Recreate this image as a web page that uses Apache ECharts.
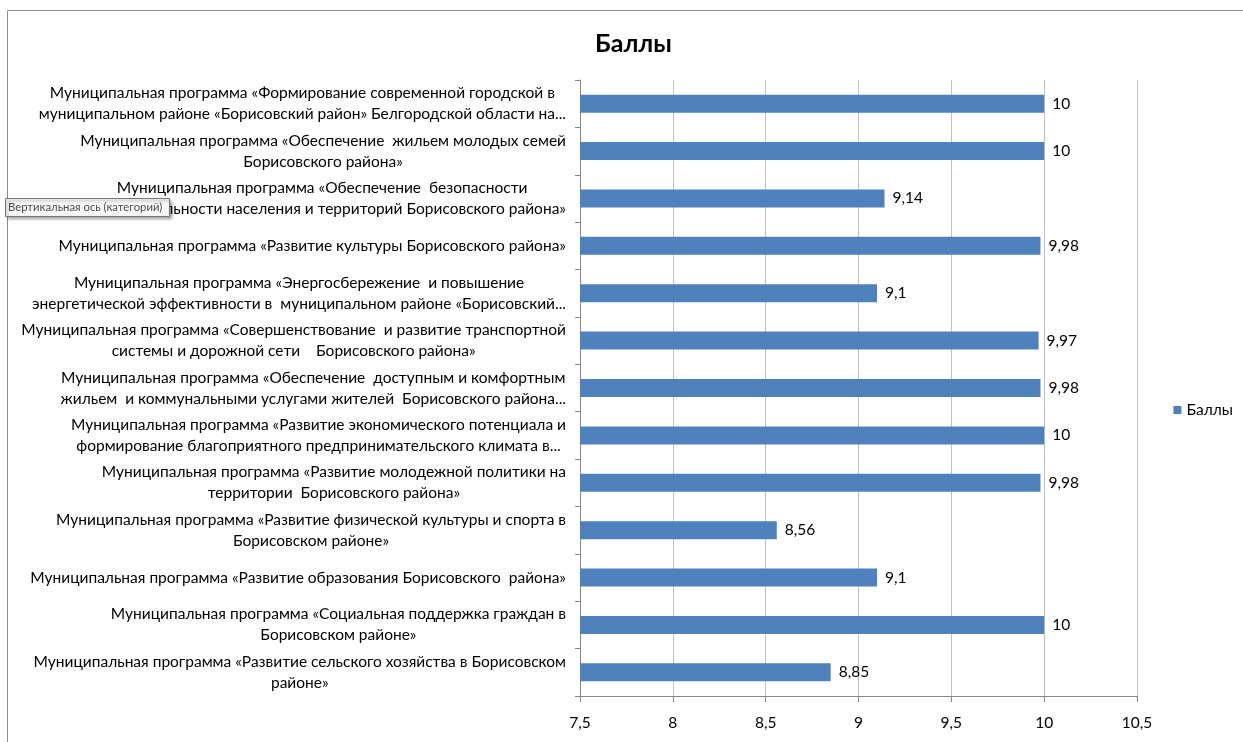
<!DOCTYPE html>
<html><head><meta charset="utf-8">
<script src="https://cdn.jsdelivr.net/npm/echarts@6/dist/echarts.min.js"></script>
<style>html,body{margin:0;padding:0;background:#fff}#c{width:1243px;height:742px}</style>
</head><body><div id="c"></div>
<script>
var categories = [
"Муниципальная программа «Формирование современной городской в\nмуниципальном районе «Борисовский район» Белгородской области на...",
"Муниципальная программа «Обеспечение  жильем молодых семей\nБорисовского района»",
"Муниципальная программа «Обеспечение  безопасности\nжизнедеятельности населения и территорий Борисовского района»",
"Муниципальная программа «Развитие культуры Борисовского района»",
"Муниципальная программа «Энергосбережение  и повышение\nэнергетической эффективности в  муниципальном районе «Борисовский...",
"Муниципальная программа «Совершенствование  и развитие транспортной\nсистемы и дорожной сети    Борисовского района»",
"Муниципальная программа «Обеспечение  доступным и комфортным\nжильем  и коммунальными услугами жителей  Борисовского района...",
"Муниципальная программа «Развитие экономического потенциала и\nформирование благоприятного предпринимательского климата в...",
"Муниципальная программа «Развитие молодежной политики на\nтерритории  Борисовского района»",
"Муниципальная программа «Развитие физической культуры и спорта в\nБорисовском районе»",
"Муниципальная программа «Развитие образования Борисовского  района»",
"Муниципальная программа «Социальная поддержка граждан в\nБорисовском районе»",
"Муниципальная программа «Развитие сельского хозяйства в Борисовском\nрайоне»"
];
var values = [10, 10, 9.14, 9.98, 9.1, 9.97, 9.98, 10, 9.98, 8.56, 9.1, 10, 8.85];
var seriesName = "Баллы";
var titleText = "Баллы";
var xMin = 7.5, xMax = 10.5, xStep = 0.5;
var tooltipText = "Вертикальная ось (категорий)";

function comma(v){ return String(v).replace('.', ','); }
var FONT = 'Lato, "Open Sans", sans-serif';
var FS = 15.5;

var chart = echarts.init(document.getElementById('c'), null, {renderer:'canvas'});
chart.setOption({
  animation:false,
  textStyle:{fontFamily:FONT},
  title:{text:titleText, left:590, top:26, textStyle:{fontFamily:FONT, fontSize:25, fontWeight:'bold', color:'#000'}},
  legend:{data:[seriesName], right:5, top:397, orient:'vertical', icon:'rect', itemWidth:8, itemHeight:8, itemGap:4,
    textStyle:{fontFamily:FONT, fontSize:FS, color:'#000'}},
  grid:{left:580, right:106, top:80, bottom:46, containLabel:false},
  xAxis:{type:'value', min:xMin, max:xMax, interval:xStep,
    axisLine:{show:true, lineStyle:{color:'#868686', width:1}},
    axisTick:{show:true, length:6, lineStyle:{color:'#868686'}},
    axisLabel:{margin:19, fontFamily:FONT, fontSize:FS, color:'#000', formatter:function(v){return comma(v);}},
    splitLine:{show:true, lineStyle:{color:'#c0c0c0', width:1}}},
  yAxis:{type:'category', data:categories, inverse:true,
    axisLine:{show:true, lineStyle:{color:'#868686'}},
    axisTick:{show:true, length:5, inside:false, lineStyle:{color:'#868686'}},
    axisLabel:{margin:14, fontFamily:FONT, fontSize:FS, color:'#000', lineHeight:21, align:'right',
      formatter:function(v){ return v.split('\n').map(function(l){return '{c|'+l+'}';}).join('\n'); },
      rich:{c:{align:'center', fontFamily:FONT, fontSize:FS, color:'#000', lineHeight:21}}},
    splitLine:{show:false}},
  series:[{name:seriesName, type:'bar', data:values, barWidth:18,
    itemStyle:{color:'#4F81BD'},
    label:{show:true, position:'right', distance:8, fontFamily:FONT, fontSize:FS, color:'#000',
      formatter:function(p){return comma(p.value);}}}],
  graphic:[
    {type:'rect', z:-1, silent:true, shape:{x:7.5, y:10.5, width:1250, height:740}, style:{fill:'none', stroke:'#8c8c8c', lineWidth:1}},
    {type:'rect', z:1000, zlevel:1, shape:{x:5.5, y:198.5, width:164, height:18}, style:{fill:'#f7f7f9', stroke:'#767676', lineWidth:1, shadowBlur:3, shadowOffsetX:2, shadowOffsetY:2, shadowColor:'rgba(0,0,0,0.35)'}},
    {type:'text', z:1001, zlevel:1, x:8, y:207.5, style:{text:tooltipText, fill:'#4c4c4c', fontFamily:FONT, fontSize:11.3, verticalAlign:'middle'}}
  ]
});
</script></body></html>
